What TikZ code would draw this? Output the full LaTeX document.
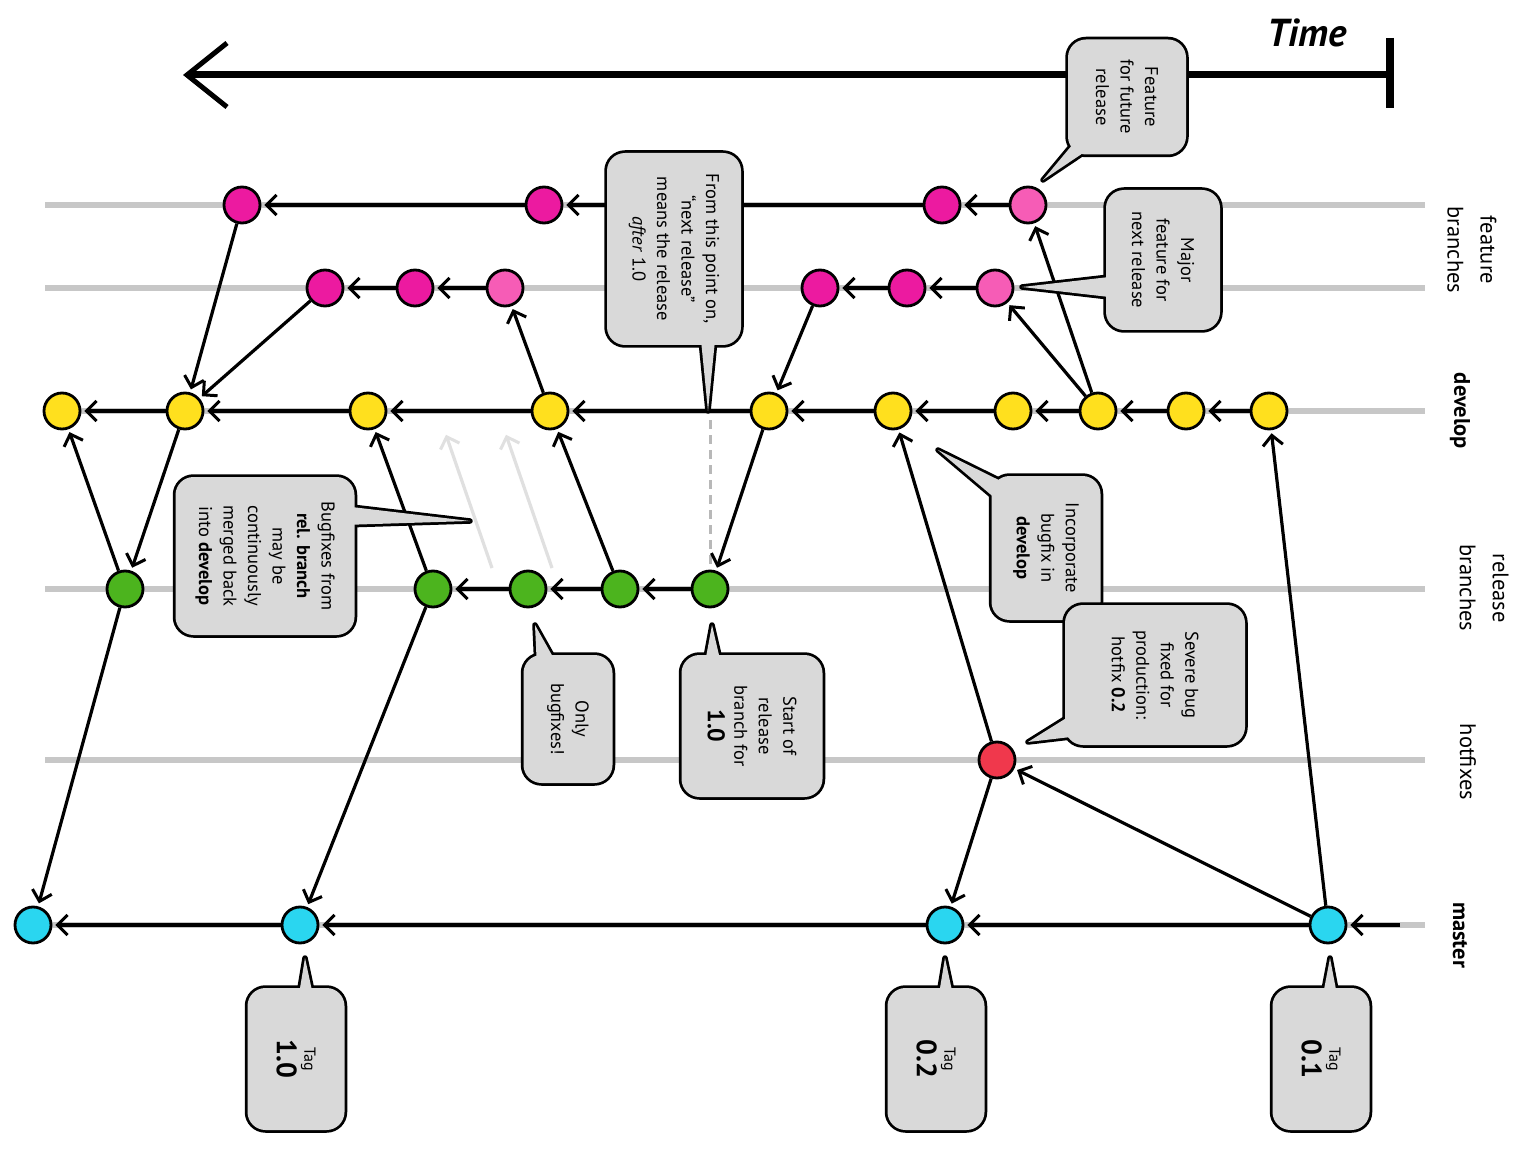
\documentclass[tikz,border=0pt]{standalone}
\usepackage{fontspec}
\setmainfont{PT Sans}
\usetikzlibrary{arrows.meta}
\definecolor{featc}{RGB}{236,26,160}
\definecolor{featl}{RGB}{246,92,182}
\definecolor{devc}{RGB}{255,224,30}
\definecolor{relc}{RGB}{76,180,30}
\definecolor{hotc}{RGB}{240,56,76}
\definecolor{mastc}{RGB}{42,214,240}
\tikzset{
  commit/.style={circle, draw=black, line width=2.8pt, minimum size=36pt, inner sep=0pt},
  feat/.style={commit, fill=featc},
  featnew/.style={commit, fill=featl},
  dev/.style={commit, fill=devc},
  rel/.style={commit, fill=relc},
  hot/.style={commit, fill=hotc},
  mast/.style={commit, fill=mastc},
  edge/.style={line width=3.2pt, -{Straight Barb[length=10pt,width=20pt,line width=3pt]}, shorten >=3pt},
  ghost/.style={edge, draw=black!12},
  lane/.style={line width=6pt, black!22},
  lanelabel/.style={rotate=-90, align=center, font=\fontsize{22.5}{33}\selectfont},
  timeline/.style={line width=7pt, -{Straight Barb[length=40pt,width=64pt,line width=5pt]}},
  note/.style={preaction={draw=black, line width=5.5pt}, fill=black!15, rounded corners=18pt,
    rotate=-90, align=center, inner sep=2pt, font=\fontsize{18.5}{24.5}\selectfont},
  tipline/.style={draw=black, line width=5.5pt, line join=round},
  tipfill/.style={fill=black!15},
}
\begin{document}
\begin{tikzpicture}[x=1pt, y=-1pt]
  % canvas
  \fill[white] (0,0) rectangle (1524,1150);
  \useasboundingbox (0,0) rectangle (1524,1150);
  % lanes
  \foreach \ly in {205,288,411,589,760,925}
    \draw[lane] (45,\ly) -- (1425,\ly);
  % lane labels
  \node[lanelabel] (lfeat) at (1472,250) {feature\\branches};
  \node[lanelabel, font=\fontsize{22.5}{33}\selectfont\bfseries] (ldev) at (1460,411) {develop};
  \node[lanelabel] (lrel) at (1484,588) {release\\branches};
  \node[lanelabel] (lhot) at (1468,762) {hotfixes};
  \node[lanelabel, font=\fontsize{22.5}{33}\selectfont\bfseries] (lmast) at (1460,935) {master};
  % time axis
  \node[font=\fontsize{39}{44}\selectfont\bfseries\itshape] (time) at (1307,33) {Time};
  \coordinate (tstart) at (1390,75);
  \coordinate (tend) at (183,75);
  \draw[line width=8pt] (1390,38) -- (1390,108);
  \draw[timeline] (tstart) -- (tend);
  % commits
  \node[feat] (f1a) at (242,205) {};
  \node[feat] (f1b) at (544,205) {};
  \node[feat] (f1c) at (942,205) {};
  \node[featnew] (f1d) at (1028,205) {};
  \node[feat] (f2a) at (325,288) {};
  \node[feat] (f2b) at (415,288) {};
  \node[featnew] (f2c) at (505,288) {};
  \node[feat] (f2d) at (820,288) {};
  \node[feat] (f2e) at (907,288) {};
  \node[featnew] (f2f) at (995,288) {};
  \node[dev] (d1) at (62,411) {};
  \node[dev] (d2) at (185,411) {};
  \node[dev] (d3) at (368,411) {};
  \node[dev] (d4) at (550,411) {};
  \node[dev] (d5) at (769,411) {};
  \node[dev] (d6) at (893,411) {};
  \node[dev] (d7) at (1013,411) {};
  \node[dev] (d8) at (1098,411) {};
  \node[dev] (d9) at (1186,411) {};
  \node[dev] (d10) at (1269,411) {};
  \node[rel] (r1) at (125,589) {};
  \node[rel] (r2) at (433,589) {};
  \node[rel] (r3) at (528,589) {};
  \node[rel] (r4) at (620,589) {};
  \node[rel] (r5) at (710,589) {};
  \node[hot] (h1) at (997,760) {};
  \node[mast] (m1) at (33,925) {};
  \node[mast] (m2) at (300,925) {};
  \node[mast] (m3) at (945,925) {};
  \node[mast] (m4) at (1328,925) {};
  \coordinate (mstart) at (1400,925);
  \coordinate (dsplit) at (710,420);
  \coordinate (g1s) at (492,568); \coordinate (g1e) at (445,432);
  \coordinate (g2s) at (552,568); \coordinate (g2e) at (505,432);
  % faint merges and release split
  \draw[ghost] (g1s) -- (g1e); \draw[ghost] (g2s) -- (g2e);
  \draw[line width=3pt, black!28, dash pattern=on 9pt off 6pt] (dsplit) -- (r5);
  % history along the lanes
  \draw[edge] (f1b) -- (f1a); \draw[edge] (f1c) -- (f1b); \draw[edge] (f1d) -- (f1c);
  \draw[edge] (f2b) -- (f2a); \draw[edge] (f2c) -- (f2b);
  \draw[edge] (f2e) -- (f2d); \draw[edge] (f2f) -- (f2e);
  \draw[edge] (d10) -- (d9); \draw[edge] (d9) -- (d8); \draw[edge] (d8) -- (d7);
  \draw[edge] (d7) -- (d6); \draw[edge] (d6) -- (d5); \draw[edge] (d5) -- (d4);
  \draw[edge] (d4) -- (d3); \draw[edge] (d3) -- (d2); \draw[edge] (d2) -- (d1);
  \draw[edge] (r5) -- (r4); \draw[edge] (r4) -- (r3); \draw[edge] (r3) -- (r2);
  \draw[edge] (mstart) -- (m4); \draw[edge] (m4) -- (m3);
  \draw[edge] (m3) -- (m2); \draw[edge] (m2) -- (m1);
  % branches and merges
  \draw[edge] (d8) -- (f2f); \draw[edge] (d8) -- (f1d);
  \draw[edge] (f2d) -- (d5); \draw[edge] (f2a) -- (d2); \draw[edge] (f1a) -- (d2);
  \draw[edge] (d4) -- (f2c); \draw[edge] (d5) -- (r5);
  \draw[edge] (r4) -- (d4); \draw[edge] (r2) -- (d3); \draw[edge] (r2) -- (m2);
  \draw[edge] (r1) -- (m1); \draw[edge] (r1) -- (d1); \draw[edge] (d2) -- (r1);
  \draw[edge] (m4) -- (d10); \draw[edge] (m4) -- (h1);
  \draw[edge] (h1) -- (m3); \draw[edge] (h1) -- (d6);
  % callouts
  \draw[tipline] (1078,138) -- (1043,180) -- (1092,147) -- cycle;
  \node[note, minimum width=115pt, minimum height=118pt] (nfuture) at (1127,97) {Feature\\for future\\release};
  \fill[tipfill] (1078,138) -- (1043,180) -- (1092,147) -- cycle;

  \draw[tipline] (700,330) -- (708,411) -- (716,330) -- cycle;
  \node[note, minimum width=192pt, minimum height=134pt] (nnext) at (674,249) {From this point on,\\“next release”\\means the release\\\textit{after} 1.0};
  \fill[tipfill] (700,330) -- (708,411) -- (716,330) -- cycle;

  \draw[tipline] (1118,276) -- (1022,287) -- (1118,298) -- cycle;
  \node[note, minimum width=140pt, minimum height=114pt] (nmajor) at (1163,260) {Major\\feature for\\next release};
  \fill[tipfill] (1118,276) -- (1022,287) -- (1118,298) -- cycle;

  \draw[tipline] (343,506) -- (470,521) -- (343,525) -- cycle;
  \node[note, minimum width=158pt, minimum height=179pt] (nbugfix) at (265,556) {Bugfixes from\\\textbf{rel. branch}\\may be\\continuously\\merged back\\into \textbf{develop}};
  \fill[tipfill] (343,506) -- (470,521) -- (343,525) -- cycle;

  \draw[tipline] (1015,488) -- (938,450) -- (1003,505) -- cycle;
  \node[note, minimum width=144pt, minimum height=109pt] (nincorp) at (1046,548) {Incorporate\\bugfix in\\\textbf{develop}};
  \fill[tipfill] (1015,488) -- (938,450) -- (1003,505) -- cycle;

  \draw[tipline] (1076,712) -- (1028,742) -- (1088,735) -- cycle;
  \node[note, minimum width=140pt, minimum height=180pt] (nsevere) at (1155,675) {Severe bug\\fixed for\\production:\\hotfix \textbf{0.2}};
  \fill[tipfill] (1076,712) -- (1028,742) -- (1088,735) -- cycle;

  \draw[tipline] (537,668) -- (535,625) -- (558,666) -- cycle;
  \node[note, minimum width=128pt, minimum height=89pt] (nonly) at (568,719) {Only\\bugfixes!};
  \fill[tipfill] (537,668) -- (535,625) -- (558,666) -- cycle;

  \draw[tipline] (704,668) -- (712,625) -- (722,668) -- cycle;
  \node[note, minimum width=142pt, minimum height=141pt] (nstart) at (752,726) {Start of\\release\\branch for\\[2pt]{\fontsize{24}{26}\selectfont\bfseries 1.0}};
  \fill[tipfill] (704,668) -- (712,625) -- (722,668) -- cycle;

  \draw[tipline] (298,1000) -- (305,958) -- (314,1000) -- cycle;
  \node[note, minimum width=142pt, minimum height=97pt] (ntagA) at (296,1059) {{\fontsize{16}{18}\selectfont Tag}\\[3pt]{\fontsize{28}{30}\selectfont\bfseries 1.0}};
  \fill[tipfill] (298,1000) -- (305,958) -- (314,1000) -- cycle;

  \draw[tipline] (938,1000) -- (945,958) -- (954,1000) -- cycle;
  \node[note, minimum width=142pt, minimum height=97pt] (ntagB) at (936,1059) {{\fontsize{16}{18}\selectfont Tag}\\[3pt]{\fontsize{28}{30}\selectfont\bfseries 0.2}};
  \fill[tipfill] (938,1000) -- (945,958) -- (954,1000) -- cycle;

  \draw[tipline] (1322,1000) -- (1330,958) -- (1338,1000) -- cycle;
  \node[note, minimum width=142pt, minimum height=97pt] (ntagC) at (1321,1059) {{\fontsize{16}{18}\selectfont Tag}\\[3pt]{\fontsize{28}{30}\selectfont\bfseries 0.1}};
  \fill[tipfill] (1322,1000) -- (1330,958) -- (1338,1000) -- cycle;
\end{tikzpicture}
\end{document}
